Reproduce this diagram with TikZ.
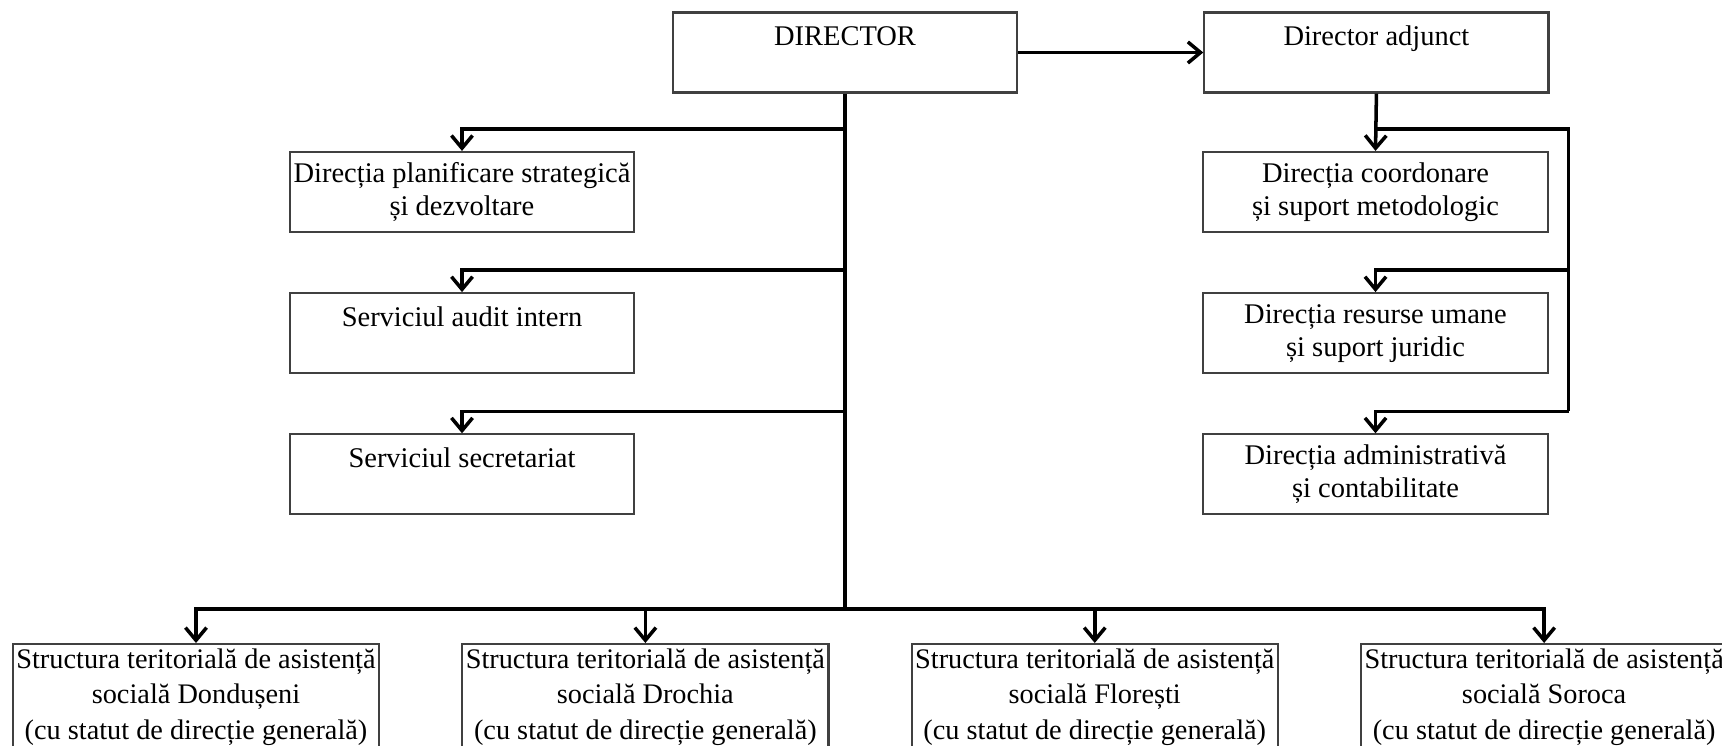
\documentclass[tikz,border=0pt]{standalone}
\usepackage{fontspec}
\setmainfont{Liberation Serif}
\usetikzlibrary{arrows.meta,positioning}

\begin{document}
\begin{tikzpicture}[x=0.01cm,y=-0.01cm,>={Straight Barb[length=3.6pt,width=6pt]},
  conn/.style={line width=1pt},
  arr/.style={conn,->},
  box/.style={draw=black!75,line width=0.6pt,minimum width=3.44cm,minimum height=0.8cm,
    align=center,inner sep=1pt,font=\fontsize{8.1pt}{9.4pt}\selectfont},
  sbox/.style={box,minimum width=3.66cm,minimum height=1.06cm,anchor=north,inner xsep=0.4pt,
    font=\fontsize{8.05pt}{10pt}\selectfont},
  node distance=0.59cm]
  \useasboundingbox (0,0) rectangle (1722,746);
  % top level
  \node[box] (DIR) at (845,52.5) {DIRECTOR\\ \mbox{}};
  \node[box,right=1.85cm of DIR] (ADJ) {Director adjunct\\ \mbox{}};
  % left column
  \node[box] (PLAN) at (462,192) {Direcția planificare strategică\\ și dezvoltare};
  \node[box,below=of PLAN] (AUD) {Serviciul audit intern\\ \mbox{}};
  \node[box,below=of AUD] (SEC) {Serviciul secretariat\\ \mbox{}};
  % right column
  \node[box] (COORD) at (1375.5,192) {Direcția coordonare\\ și suport metodologic};
  \node[box,below=of COORD] (RES) {Direcția resurse umane\\ și suport juridic};
  \node[box,below=of RES] (ADM) {Direcția administrativă\\ și contabilitate};
  % territorial structures
  \node[sbox] (DON) at (196,643) {Structura teritorială de asistență\\ socială Dondușeni\\ (cu statut de direcție generală)};
  \node[sbox,right=0.81cm of DON] (DRO) {Structura teritorială de asistență\\ socială Drochia\\ (cu statut de direcție generală)};
  \node[sbox,right=0.81cm of DRO] (FLO) {Structura teritorială de asistență\\ socială Florești\\ (cu statut de direcție generală)};
  \node[sbox,right=0.81cm of FLO] (SOR) {Structura teritorială de asistență\\ socială Soroca\\ (cu statut de direcție generală)};

  \draw[arr] (DIR) -- (ADJ);
  \coordinate (bar) at ([yshift=0.34cm]DON.north -| DIR.south);
  \draw[conn] (DIR.south) -- (bar);
  \foreach \n in {PLAN,AUD,SEC}
    \draw[arr] ([yshift=0.22cm]\n.north -| DIR.south) -| (\n.north);
  \foreach \n in {DON,DRO,FLO,SOR}
    \draw[arr] (bar) -| (\n.north);

  \coordinate (rT) at ([yshift=0.22cm,xshift=0.2cm]COORD.north -| COORD.east);
  \coordinate (rB) at ([yshift=0.22cm,xshift=0.2cm]ADM.north -| ADM.east);
  \draw[arr] (ADJ.south) -- (COORD.north);
  \draw[conn] ([yshift=0.22cm]COORD.north) -- (rT) -- (rB);
  \draw[arr] ([yshift=0.22cm,xshift=0.2cm]RES.north -| RES.east) -| (RES.north);
  \draw[arr] (rB) -| (ADM.north);
\end{tikzpicture}
\end{document}
